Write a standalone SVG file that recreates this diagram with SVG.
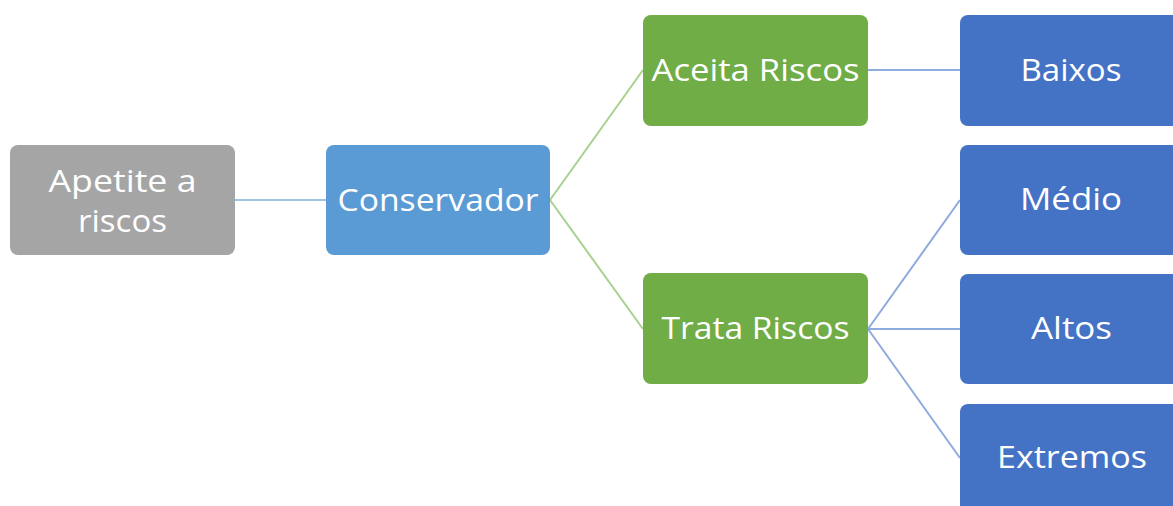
<svg xmlns="http://www.w3.org/2000/svg" width="1173" height="506" viewBox="0 0 1173 506">
<style>
.t{font-family:"Open Sans","Noto Sans","Liberation Sans",sans-serif;font-size:31px;fill:#ffffff;text-anchor:middle}
.c{fill:none;stroke-width:2}
</style>
<rect width="1173" height="506" fill="#ffffff"/>
<g id="connectors">
<line class="c" x1="235" y1="200" x2="326" y2="200" stroke="#9DC3E6"/>
<line class="c" x1="550" y1="200" x2="643" y2="70" stroke="#A9D18E"/>
<line class="c" x1="550" y1="200" x2="643" y2="329" stroke="#A9D18E"/>
<line class="c" x1="868" y1="70" x2="960" y2="70" stroke="#8FAADC"/>
<line class="c" x1="868" y1="329" x2="960" y2="200" stroke="#8FAADC"/>
<line class="c" x1="868" y1="329" x2="960" y2="329" stroke="#8FAADC"/>
<line class="c" x1="868" y1="329" x2="960" y2="458" stroke="#8FAADC"/>
</g>
<g id="apetite">
<rect x="10" y="145" width="225" height="110" rx="8" fill="#A5A5A5"/>
<text class="t" x="122.5" y="192" textLength="148" lengthAdjust="spacingAndGlyphs">Apetite a</text>
<text class="t" x="122.5" y="232" textLength="89" lengthAdjust="spacingAndGlyphs">riscos</text>
</g>
<g id="conservador">
<rect x="326" y="145" width="224" height="110" rx="8" fill="#5B9BD5"/>
<text class="t" x="438" y="211" textLength="201" lengthAdjust="spacingAndGlyphs">Conservador</text>
</g>
<g id="aceita">
<rect x="643" y="15" width="225" height="111" rx="8" fill="#70AD47"/>
<text class="t" x="755.5" y="81" textLength="208" lengthAdjust="spacingAndGlyphs">Aceita Riscos</text>
</g>
<g id="trata">
<rect x="643" y="273" width="225" height="111" rx="8" fill="#70AD47"/>
<text class="t" x="755.5" y="339" textLength="188" lengthAdjust="spacingAndGlyphs">Trata Riscos</text>
</g>
<g id="baixos">
<rect x="960" y="15" width="225" height="111" rx="8" fill="#4472C4"/>
<text class="t" x="1071" y="81" textLength="101" lengthAdjust="spacingAndGlyphs">Baixos</text>
</g>
<g id="medio">
<rect x="960" y="145" width="225" height="110" rx="8" fill="#4472C4"/>
<text class="t" x="1071" y="210" textLength="102" lengthAdjust="spacingAndGlyphs">Médio</text>
</g>
<g id="altos">
<rect x="960" y="274" width="225" height="110" rx="8" fill="#4472C4"/>
<text class="t" x="1071.5" y="339" textLength="81" lengthAdjust="spacingAndGlyphs">Altos</text>
</g>
<g id="extremos">
<rect x="960" y="404" width="225" height="120" rx="8" fill="#4472C4"/>
<text class="t" x="1072" y="468" textLength="150" lengthAdjust="spacingAndGlyphs">Extremos</text>
</g>
</svg>
